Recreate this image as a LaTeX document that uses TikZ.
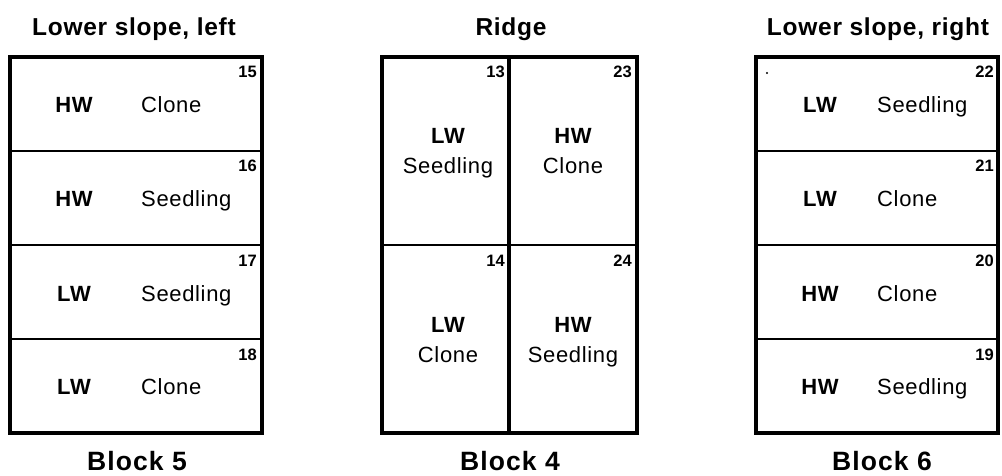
\documentclass[tikz,border=0pt]{standalone}
\usepackage{fontspec}
\setmainfont{Liberation Sans}
\begin{document}
\begin{tikzpicture}[x=1pt,y=-1pt,
  outer/.style={draw=black,line width=3.6pt},
  divider/.style={draw=black,line width=2.4pt},
  middiv/.style={draw=black,line width=3.2pt},
  title/.style={font=\fontsize{24.5}{28}\selectfont\bfseries\addfontfeature{LetterSpace=3},inner sep=0pt,anchor=base},
  blocklabel/.style={font=\fontsize{26.5}{30}\selectfont\bfseries\addfontfeature{LetterSpace=4},inner sep=0pt,anchor=base},
  trt/.style={font=\fontsize{22}{25}\selectfont\bfseries\addfontfeature{LetterSpace=3},inner sep=0pt,anchor=base},
  kind/.style={font=\fontsize{22}{25}\selectfont\addfontfeature{LetterSpace=3},inner sep=0pt,anchor=base},
  num/.style={font=\fontsize{16.5}{18}\selectfont\bfseries,inner sep=0pt,anchor=base east}]
\useasboundingbox (0,0) rectangle (1002,476);
% titles
\node[title] (t5) at (134,36) {Lower slope, left};
\node[title] (t4) at (511,36) {Ridge};
\node[title] (t6) at (878,36) {Lower slope, right};
% Block 5
\foreach \y in {151,245,339} \draw[divider] (10,\y) -- (262,\y);
\draw[outer] (10,57) rectangle (262,433);
\node[num] (n15) at (257,78) {15};
\node[num] (n16) at (257,172) {16};
\node[num] (n17) at (257,266) {17};
\node[num] (n18) at (257,360) {18};
\node[trt] (a1) at (74,113) {HW};
\node[kind,anchor=base west] (b1) at (141,113) {Clone};
\node[trt] (a2) at (74,207) {HW};
\node[kind,anchor=base west] (b2) at (141,207) {Seedling};
\node[trt] (a3) at (74,301) {LW};
\node[kind,anchor=base west] (b3) at (141,301) {Seedling};
\node[trt] (a4) at (74,394) {LW};
\node[kind,anchor=base west] (b4) at (141,394) {Clone};
\node[blocklabel] (bl5) at (137,470) {Block 5};
% Block 4
\draw[divider] (382,245) -- (637,245);
\draw[middiv] (509,57) -- (509,433);
\draw[outer] (382,57) rectangle (637,433);
\node[num] (n13) at (505,78) {13};
\node[num] (n23) at (632,78) {23};
\node[num] (n14) at (505,266) {14};
\node[num] (n24) at (632,266) {24};
\node[trt] (c1) at (448,144) {LW};
\node[kind] (d1) at (448,174) {Seedling};
\node[trt] (c2) at (573,144) {HW};
\node[kind] (d2) at (573,174) {Clone};
\node[trt] (c3) at (448,332) {LW};
\node[kind] (d3) at (448,362) {Clone};
\node[trt] (c4) at (573,332) {HW};
\node[kind] (d4) at (573,362) {Seedling};
\node[blocklabel] (bl4) at (510,470) {Block 4};
% Block 6
\foreach \y in {151,245,339} \draw[divider] (756,\y) -- (998,\y);
\draw[outer] (756,57) rectangle (998,433);
\fill (767,73) circle (1.2);
\node[num] (n22) at (994,78) {22};
\node[num] (n21) at (994,172) {21};
\node[num] (n20) at (994,266) {20};
\node[num] (n19) at (994,360) {19};
\node[trt] (e1) at (820,113) {LW};
\node[kind,anchor=base west] (f1) at (877,113) {Seedling};
\node[trt] (e2) at (820,207) {LW};
\node[kind,anchor=base west] (f2) at (877,207) {Clone};
\node[trt] (e3) at (820,301) {HW};
\node[kind,anchor=base west] (f3) at (877,301) {Clone};
\node[trt] (e4) at (820,394) {HW};
\node[kind,anchor=base west] (f4) at (877,394) {Seedling};
\node[blocklabel] (bl6) at (882,470) {Block 6};
\end{tikzpicture}
\end{document}
